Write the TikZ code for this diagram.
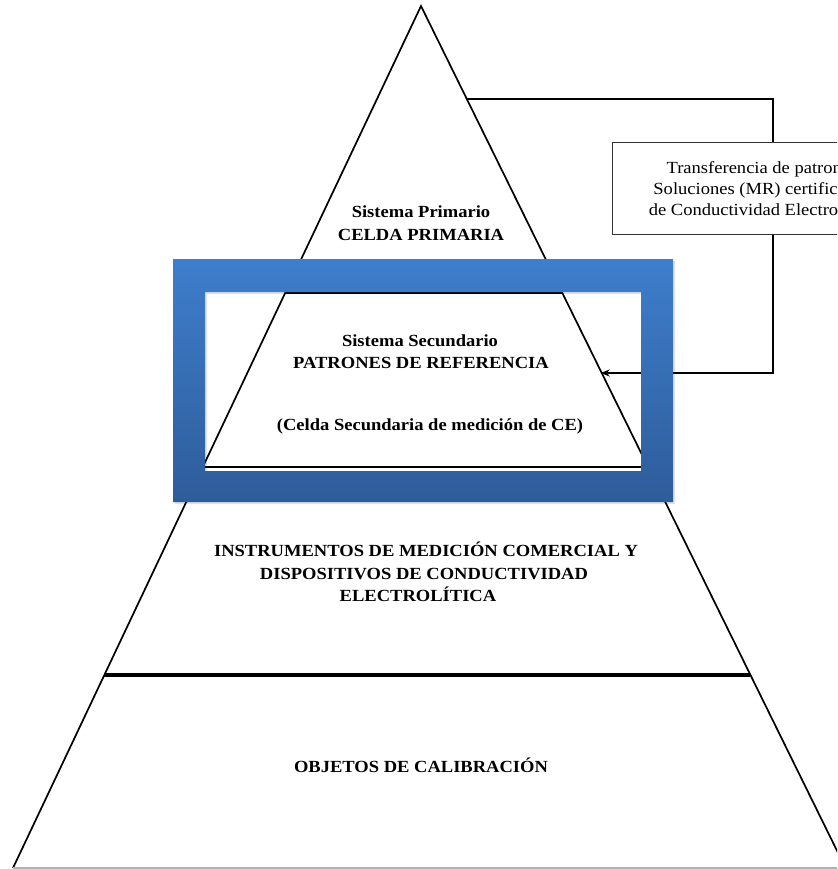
\documentclass[tikz,border=0pt]{standalone}
\usepackage{fontspec}
\newfontfamily\tnr[FakeStretch=1.09]{Liberation Serif}
\usetikzlibrary{arrows.meta,calc}
\definecolor{frametop}{RGB}{62,126,204}
\definecolor{framebot}{RGB}{46,92,154}
\tikzset{
  side/.style={line width=1.7pt, black},
  tierrule/.style={line width=2.4pt, black},
  heavyrule/.style={line width=4.6pt, black},
  link/.style={line width=2pt, black},
  boldlabel/.style={font=\tnr\bfseries\fontsize{17}{22}\selectfont, anchor=base, inner sep=0pt},
  boxlabel/.style={font=\tnr\fontsize{17}{20.7}\selectfont, align=center},
}
\begin{document}
\begin{tikzpicture}[x=1pt,y=-1pt]
\useasboundingbox (0,0) rectangle (837,869);
\clip (0,0) rectangle (837,869);

% pyramid outline
\coordinate (apex) at (421,6);
\coordinate (bl) at (13,868);
\coordinate (br) at (845.5,868);
\draw[side] (bl) -- (apex) -- (br);
\draw[gray!60, line width=1.2pt] (bl) -- (br);

% points on the two sides at the level of each rule
\foreach \nm/\t in {a/0.10789, b/0.33295, c/0.42575, d/0.53480, e/0.77610}{
  \coordinate (\nm-l) at ($(apex)!\t!(bl)$);
  \coordinate (\nm-r) at ($(apex)!\t!(br)$);
}

% tier separators
\draw[tierrule] (b-l) -- (b-r);
\draw[tierrule] (d-l) -- (d-r);
\draw[heavyrule] (e-l) -- (e-r);

% transfer box and its loop back into the pyramid
\node[draw=black!80, line width=1pt, fill=white, minimum width=300pt, minimum height=91pt, boxlabel]
  (tbox) at (762,188.5) {Transferencia de patrones\\Soluciones (MR) certificadas\\de Conductividad Electrolítica};
\coordinate (vx) at (773,0);
\draw[link] (a-r) -- (a-r -| vx) -- (vx |- tbox.north);
\draw[link, -{Stealth[length=9pt,width=7pt]}, shorten >=-1pt] (vx |- tbox.south) |- (c-r);

% highlight frame around the secondary level
\fill[black, opacity=0.12, even odd rule] (175,261) rectangle (675,504) (207,294) rectangle (643,473);
\shade[top color=frametop, bottom color=framebot, even odd rule]
  (173,259) rectangle (673,502) (205,292) rectangle (641,471);

% labels
\node[boldlabel] (p1a) at (421,217.7) {Sistema Primario};
\node[boldlabel] (p1b) at (421,240) {CELDA PRIMARIA};
\node[boldlabel] (p2a) at (420,346.7) {Sistema Secundario};
\node[boldlabel] (p2b) at (421,368.3) {PATRONES DE REFERENCIA};
\node[boldlabel] (p2c) at (430,430) {(Celda Secundaria de medición de CE)};
\node[boldlabel] (p3a) at (426,556) {INSTRUMENTOS DE MEDICIÓN COMERCIAL Y};
\node[boldlabel] (p3b) at (424,579.3) {DISPOSITIVOS DE CONDUCTIVIDAD};
\node[boldlabel] (p3c) at (418,601.7) {ELECTROLÍTICA};
\node[boldlabel] (p4) at (421,772.3) {OBJETOS DE CALIBRACIÓN};
\end{tikzpicture}
\end{document}
